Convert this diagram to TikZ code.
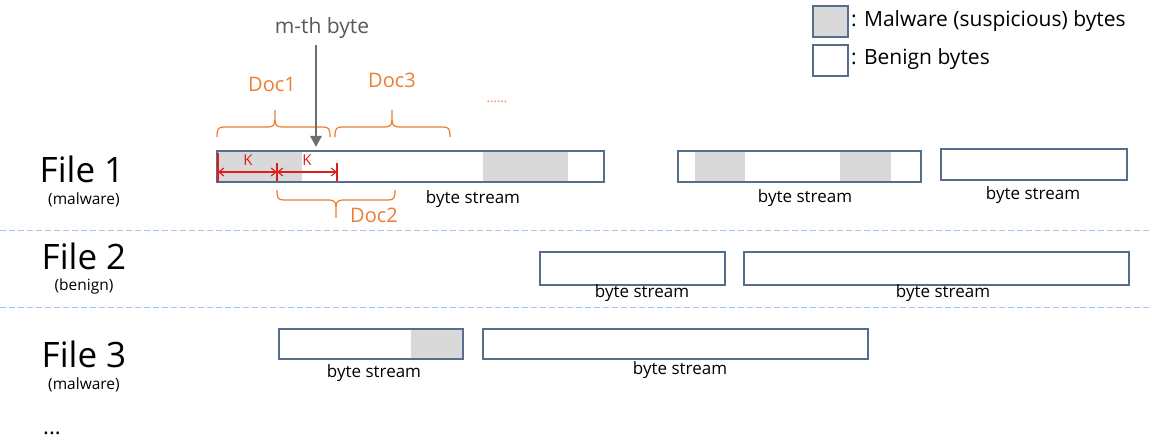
\documentclass[tikz,border=0pt]{standalone}
\usepackage{fontspec}
\setmainfont{Open Sans}
\usetikzlibrary{arrows.meta}
\definecolor{bord}{RGB}{84,110,140}
\definecolor{malg}{RGB}{217,217,217}
\definecolor{docor}{RGB}{237,125,49}
\definecolor{dashc}{RGB}{157,195,230}
\definecolor{kred}{RGB}{220,30,30}
\definecolor{arrg}{RGB}{110,110,110}
\definecolor{txtg}{RGB}{89,89,89}
\tikzset{
  bx/.style={draw=bord, line width=1.3pt, inner sep=0pt, outer sep=0pt},
  bs/.style={font=\fontsize{17}{17}\selectfont, inner sep=0pt},
  filelbl/.style={font=\fontsize{35}{35}\selectfont, inner sep=0pt},
  sublbl/.style={font=\fontsize{15.5}{15.5}\selectfont, inner sep=0pt},
  doclbl/.style={font=\fontsize{20}{20}\selectfont, text=docor, inner sep=0pt},
  brc/.style={draw=docor, line width=1.2pt},
  sep/.style={draw=dashc, line width=1pt, dash pattern=on 6pt off 3pt},
  karrow/.style={draw=kred, line width=1.1pt, {Straight Barb[length=5pt,width=8pt]}-{Straight Barb[length=5pt,width=8pt]}},
  ktick/.style={draw=kred, line width=1.2pt},
  klbl/.style={font=\fontsize{15}{15}\selectfont, text=kred, inner sep=0pt},
  legtxt/.style={font=\fontsize{21}{21}\selectfont, inner sep=0pt, anchor=west},
}
\newcommand\bytebox[5]{\node[bx, minimum width={#4-#2}, minimum height={#5-#3}] (#1) at ({(#2+#4)/2},{(#3+#5)/2}) {};}
\begin{document}
\begin{tikzpicture}[x=1pt,y=-1pt]
\useasboundingbox (0,0) rectangle (1152,443);

% separators
\draw[sep] (0,231) -- (1152,231);
\draw[sep] (0,308) -- (1152,308);

% left labels
\node[filelbl] (f1) at (82,169) {File 1};
\node[sublbl] (f1s) at (84,200) {(malware)};
\node[filelbl] (f2) at (84,256) {File 2};
\node[sublbl] (f2s) at (84,286) {(benign)};
\node[filelbl] (f3) at (84,354) {File 3};
\node[sublbl] (f3s) at (84,385) {(malware)};
\node[font=\fontsize{22}{22}\selectfont, inner sep=0pt] (dots) at (52,433) {...};

% malware (gray) regions
\fill[malg] (217,151) rectangle (302,182);
\fill[malg] (483,151) rectangle (568,182);
\fill[malg] (695,151) rectangle (745,182);
\fill[malg] (840,151) rectangle (891,182);
\fill[malg] (411,329) rectangle (463,359);

% boxes
\bytebox{a}{217}{151}{604}{182}
\bytebox{b}{678}{151}{921}{182}
\bytebox{c}{941}{149}{1127}{180}
\bytebox{d}{540}{252}{725}{285}
\bytebox{e}{744}{252}{1129}{285}
\bytebox{f}{279}{329}{463}{359}
\bytebox{g}{483}{329}{868}{359}

% byte stream labels
\node[bs] (la) at (473,199) {byte stream};
\node[bs] (lb) at (805,198) {byte stream};
\node[bs] (lc) at (1033,195) {byte stream};
\node[bs] (ld) at (642,293) {byte stream};
\node[bs] (le) at (943,293) {byte stream};
\node[bs] (lf) at (374,373) {byte stream};
\node[bs] (lg) at (680,370) {byte stream};

% K arrows
\coordinate (k0) at (218,172);
\coordinate (k1) at (277,172);
\coordinate (k2) at (337,172);
\draw[ktick] (218,153) -- (218,182);
\draw[ktick] (277,163) -- (277,181);
\draw[ktick] (337,163) -- (337,181);
\draw[karrow] (k0) -- (k1);
\draw[karrow] (k1) -- (k2);
\node[klbl] (ka) at (248,160) {K};
\node[klbl] (kb) at (307,160) {K};

% braces
\draw[brc] (217,137) .. controls (217,129) and (218,127) .. (224,127) -- (268,127)
  .. controls (273,127) and (275,125) .. (275,120) -- (275,110);
\draw[brc] (275,120) .. controls (275,125) and (277,127) .. (282,127) -- (323,127)
  .. controls (329,127) and (330,129) .. (330,137);
\draw[brc] (335,137) .. controls (335,129) and (336,127) .. (342,127) -- (385,127)
  .. controls (390,127) and (392,125) .. (392,120) -- (392,110);
\draw[brc] (392,120) .. controls (392,125) and (394,127) .. (399,127) -- (443,127)
  .. controls (449,127) and (450,129) .. (450,137);
\draw[brc] (277,190) .. controls (277,198) and (278,200) .. (284,200) -- (329,200)
  .. controls (334,200) and (336,202) .. (336,207) -- (336,218);
\draw[brc] (336,207) .. controls (336,202) and (338,200) .. (343,200) -- (388,200)
  .. controls (394,200) and (395,198) .. (395,190);
\node[doclbl] (doc1) at (272,84) {Doc1};
\node[doclbl] (doc3) at (392,80) {Doc3};
\node[doclbl] (doc2) at (374,215) {Doc2};
\node[font=\fontsize{13}{13}\selectfont, text=docor, inner sep=0pt] (more) at (497,102) {......};

% m-th byte arrow
\node[font=\fontsize{21}{21}\selectfont, text=txtg, inner sep=0pt] (mth) at (322,28) {m-th byte};
\coordinate (mtip) at (316,147);
\draw[draw=arrg, line width=2.6pt, -{Triangle[length=11pt,width=11pt]}] (316,45) -- (mtip);

% legend
\node[bx, fill=malg, minimum width=35, minimum height=31] (lgm) at (830.5,21.5) {};
\node[bx, minimum width=35, minimum height=31] (lgb) at (830.5,60.5) {};
\node[legtxt] (lgmt) at (851,21) {: Malware (suspicious) bytes};
\node[legtxt] (lgbt) at (851,59) {: Benign bytes};
\end{tikzpicture}
\end{document}
